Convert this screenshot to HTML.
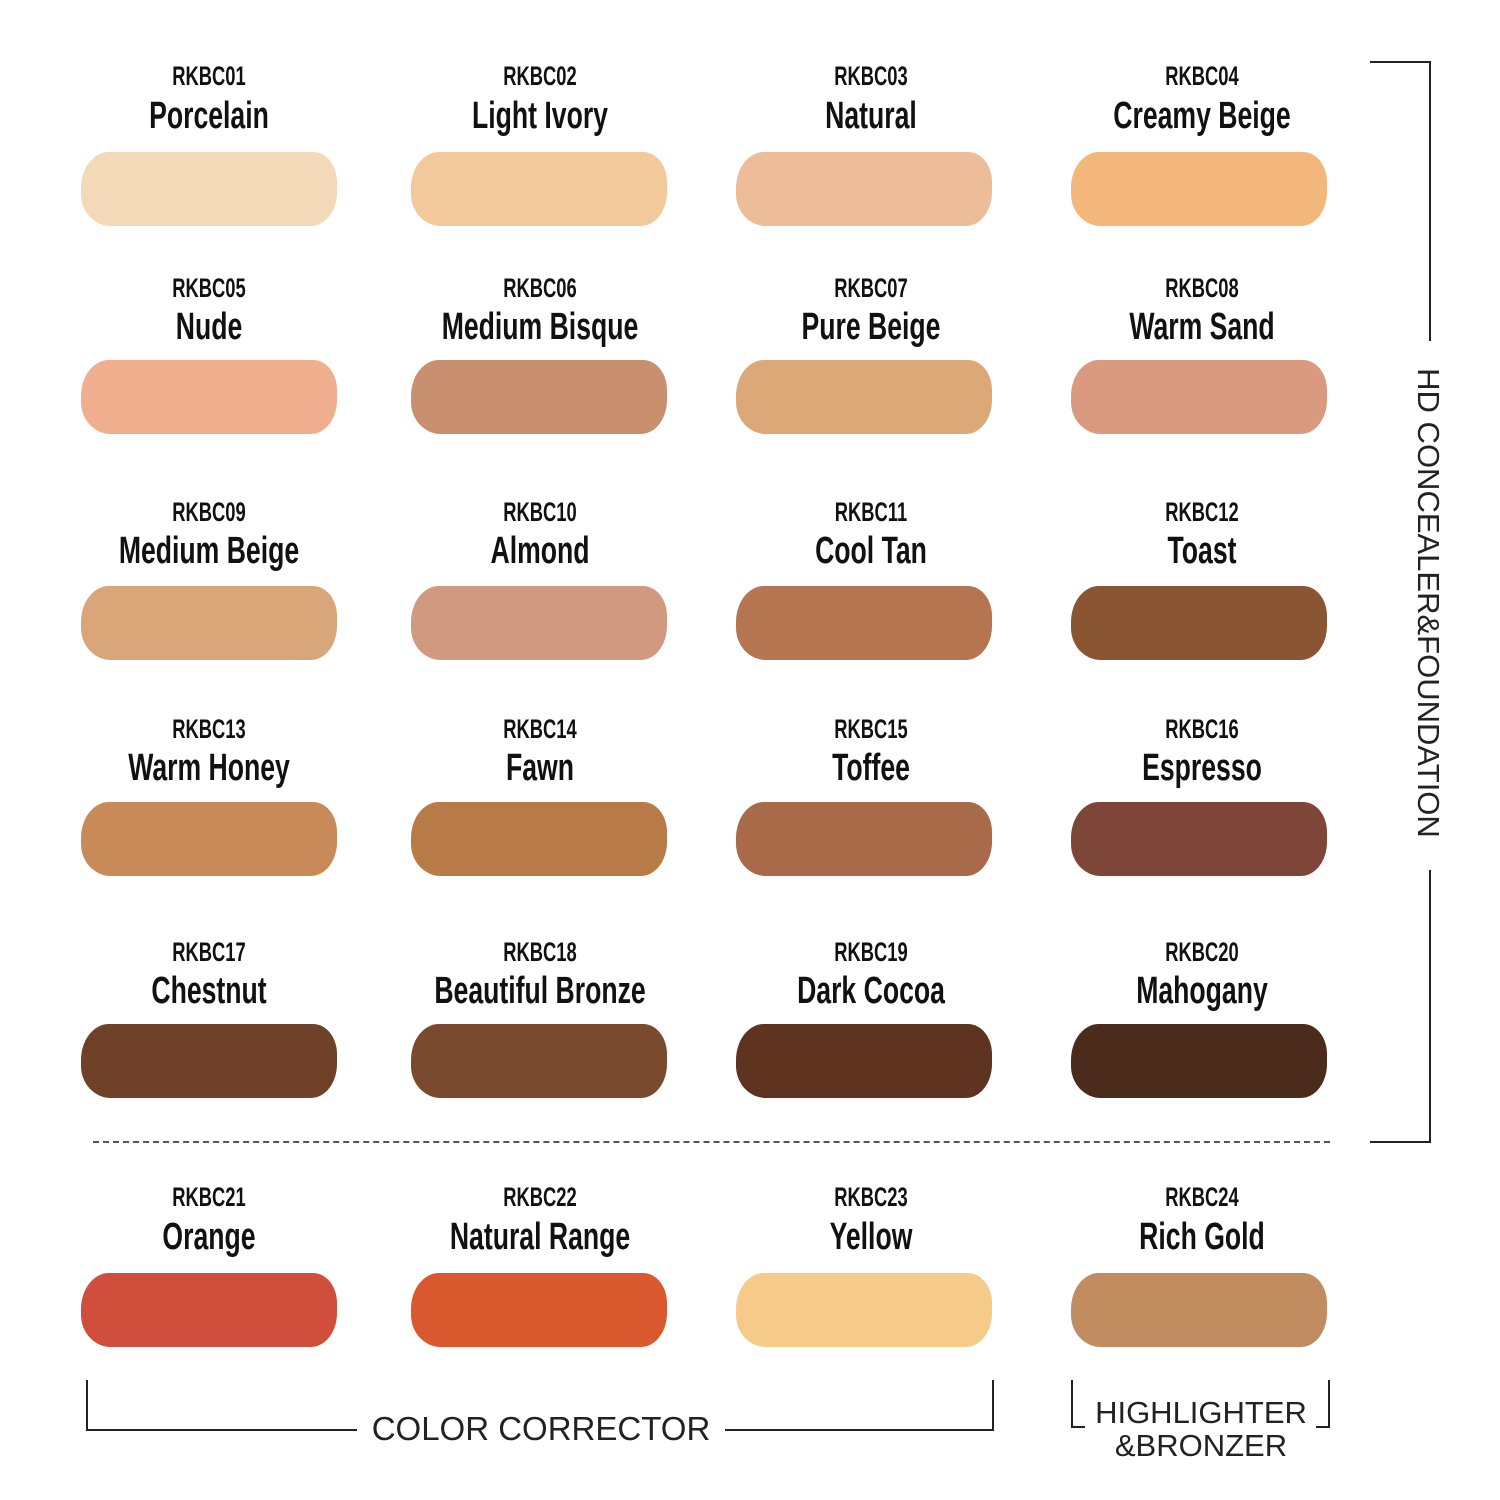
<!DOCTYPE html>
<html><head><meta charset="utf-8"><style>
body{margin:0;width:1500px;height:1500px;background:#fff;position:relative;overflow:hidden;font-family:"Liberation Sans",sans-serif;}
.c{position:absolute;width:400px;text-align:center;color:#111;white-space:nowrap;}
.code{font-size:27px;font-weight:bold;transform:scaleX(0.68);}
.name{font-size:38px;font-weight:bold;transform:scaleX(0.7);}
.s{position:absolute;width:256px;height:74px;border-radius:28px 24px 26px 30px/36px 30px 34px 32px;}
.ln{position:absolute;background:#222;}
.t{position:absolute;font-family:"Liberation Sans",sans-serif;font-size:33px;color:#222;white-space:nowrap;}
</style></head><body>
<div id="g"></div>
<script>
const cx=[209,540,871,1202],xs=[81,411,736,1071];
const rows=[[77,116,152],[289,327,360],[513,551,586],[730,768,802],[953,991,1024],[1198,1237,1273]];
const names=["Porcelain","Light Ivory","Natural","Creamy Beige","Nude","Medium Bisque","Pure Beige","Warm Sand","Medium Beige","Almond","Cool Tan","Toast","Warm Honey","Fawn","Toffee","Espresso","Chestnut","Beautiful Bronze","Dark Cocoa","Mahogany","Orange","Natural Range","Yellow","Rich Gold"];
const cols=["#f3d9b8","#f2c99a","#edbd9a","#f3b77c","#efae8e","#c9906f","#dca878","#d99a80","#d9a67a","#d19a80","#b57550","#8a5533","#c98a5a","#b87a46","#a86a48","#7d4638","#6e4128","#7a4a2e","#5e3320","#4a2b1c","#cf4f3c","#d9582e","#f6cb8a","#c08c60"];
let h="";
for(let i=0;i<24;i++){const r=rows[Math.floor(i/4)],c=i%4;const n=String(i+1).padStart(2,"0");
h+=`<div class="c code" style="left:${cx[c]-200}px;top:${r[0]-16}px">RKBC${n}</div>`;
h+=`<div class="c name" style="left:${cx[c]-200}px;top:${r[1]-21}px">${names[i]}</div>`;
h+=`<div class="s" style="left:${xs[c]}px;top:${r[2]}px;background:${cols[i]}"></div>`;}
document.getElementById("g").innerHTML=h;
</script>
<div style="position:absolute;left:93px;top:1141px;width:1237px;border-top:2px dashed #555"></div>
<div class="ln" style="left:1370px;top:61px;width:60px;height:2px"></div>
<div class="ln" style="left:1429px;top:61px;width:2px;height:280px"></div>
<div class="ln" style="left:1429px;top:870px;width:2px;height:273px"></div>
<div class="ln" style="left:1370px;top:1141px;width:60px;height:2px"></div>
<div class="t" style="left:1178px;top:585px;width:500px;text-align:center;transform:rotate(90deg);font-size:31px">HD CONCEALER&amp;FOUNDATION</div>
<div class="ln" style="left:86px;top:1380px;width:2px;height:50px"></div>
<div class="ln" style="left:86px;top:1429px;width:271px;height:2px"></div>
<div class="t" style="left:357px;top:1410px;width:368px;text-align:center">COLOR CORRECTOR</div>
<div class="ln" style="left:725px;top:1429px;width:269px;height:2px"></div>
<div class="ln" style="left:992px;top:1380px;width:2px;height:50px"></div>
<div class="ln" style="left:1071px;top:1380px;width:2px;height:48px"></div>
<div class="ln" style="left:1071px;top:1426px;width:14px;height:2px"></div>
<div class="ln" style="left:1328px;top:1380px;width:2px;height:48px"></div>
<div class="ln" style="left:1316px;top:1426px;width:14px;height:2px"></div>
<div class="t" style="left:1072px;top:1396px;width:258px;text-align:center;line-height:33px;font-size:31px">HIGHLIGHTER<br>&amp;BRONZER</div>
</body></html>
